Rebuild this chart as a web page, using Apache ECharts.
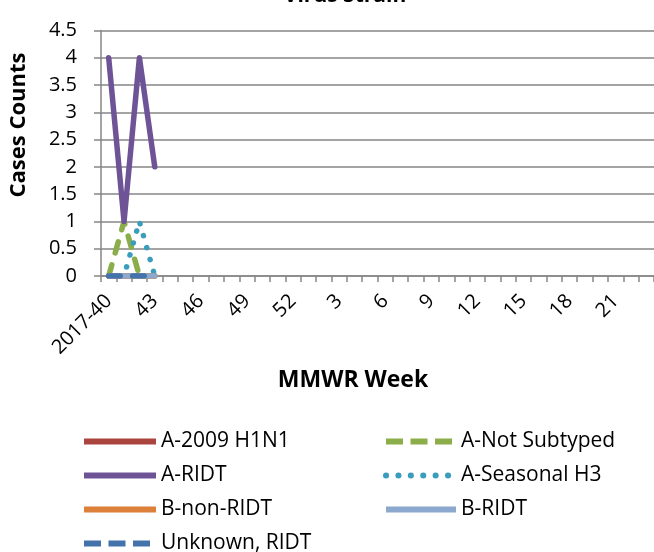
<!DOCTYPE html>
<html>
<head>
<meta charset="utf-8">
<script src="https://cdn.jsdelivr.net/npm/echarts@6/dist/echarts.min.js"></script>
<style>
html,body{margin:0;padding:0;background:#fff;overflow:hidden;}
#chart{width:654px;height:552px;}
</style>
</head>
<body>
<div id="chart"></div>
<script>
// Categories: MMWR weeks
const weeks2017 = ['2017-40','41','42','43','44','45','46','47','48','49','50','51','52'];
const weeks2018 = ['1','2','3','4','5','6','7','8','9','10','11','12','13','14','15','16','17','18','19','20','21','22','23'];
const categories = weeks2017.concat(weeks2018);

// Series values (only weeks with data)
const a2009H1N1    = [0, 0, 0, 0];
const aNotSubtyped = [0, 1, 0, 0];
const aRIDT        = [4, 1, 4, 2];
const aSeasonalH3  = [0, 0, 1, 0];
const bNonRIDT     = [0, 0, 0, 0];
const bRIDT        = [0, 0, 0, 0];
const unknownRIDT  = [0, 0, 0, 0];

const seriesNames = ['A-2009 H1N1', 'A-Not Subtyped', 'A-RIDT', 'A-Seasonal H3', 'B-non-RIDT', 'B-RIDT', 'Unknown, RIDT'];

const FONT = 'Open Sans';
const chart = echarts.init(document.getElementById('chart'));

const styles = {
  'A-2009 H1N1':    {color: '#A9443F', type: 'solid',      legType: 'solid',   legCap: 'butt'},
  'A-Not Subtyped': {color: '#8CAE4A', type: [11.5, 12.5], legType: [17, 7.5], legCap: 'butt'},
  'A-RIDT':         {color: '#6E5496', type: 'solid',      legType: 'solid',   legCap: 'butt'},
  'A-Seasonal H3':  {color: '#3A9DBB', type: [0.1, 12.3],  legType: [0.1, 12.3], legCap: 'round'},
  'B-non-RIDT':     {color: '#DD803A', type: 'solid',      legType: 'solid',   legCap: 'butt'},
  'B-RIDT':         {color: '#8DA8CF', type: 'solid',      legType: 'solid',   legCap: 'butt'},
  'Unknown, RIDT':  {color: '#4472AA', type: [11.5, 12.5], legType: [17, 7.5], legCap: 'butt'}
};

function mk(name, data) {
  const s = styles[name];
  return {
    name: name, type: 'line', data: data, symbol: 'none',
    lineStyle: {color: s.color, width: 5.5, type: s.type, cap: 'round', join: 'round'},
    itemStyle: {color: s.color},
    emphasis: {disabled: true}, animation: false
  };
}
function legItem(name) {
  const s = styles[name];
  return {
    name: name,
    itemStyle: {opacity: 0},
    lineStyle: {color: s.color, width: 6, type: s.legType, cap: s.legCap, opacity: 1}
  };
}

const legendText = {fontFamily: FONT, fontSize: 21, color: '#000', lineHeight: 21};

chart.setOption({
  animation: false,
  title: {
    text: 'Virus Strain', left: 340, top: -19, textAlign: 'center',
    textStyle: {fontFamily: FONT, fontWeight: 'bold', fontSize: 21, color: '#000'}
  },
  graphic: [
    {type: 'text', x: 19, y: 125, rotation: Math.PI / 2,
     style: {text: 'Cases Counts', align: 'center', verticalAlign: 'middle',
             font: 'bold 22px "Open Sans"', fill: '#000'}},
    {type: 'text', x: 353, y: 380,
     style: {text: 'MMWR Week', align: 'center', verticalAlign: 'middle',
             font: 'bold 23px "Open Sans"', fill: '#000'}}
  ],
  grid: {left: 101, top: 30.4, bottom: 276, right: -16},
  xAxis: {
    type: 'category', data: categories, boundaryGap: true,
    axisLine: {lineStyle: {color: '#868686', width: 1.5}},
    axisTick: {show: true, interval: 0, length: 6, lineStyle: {color: '#868686', width: 1.5}},
    axisLabel: {interval: 2, rotate: 45, margin: 22, fontFamily: FONT, fontSize: 20, color: '#000'},
    splitLine: {show: false}
  },
  yAxis: {
    type: 'value', min: 0, max: 4.5, interval: 0.5,
    axisLine: {show: true, lineStyle: {color: '#868686', width: 1.5}},
    axisTick: {show: true, length: 7, lineStyle: {color: '#868686', width: 1.5}},
    axisLabel: {margin: 24, fontFamily: FONT, fontSize: 20, color: '#000',
      formatter: function (v) { return String(v); }},
    splitLine: {show: true, lineStyle: {color: '#868686', width: 1.5}}
  },
  legend: [
    {
      orient: 'vertical', left: 81, top: 431, padding: 0, height: 200,
      itemWidth: 72, itemHeight: 14, itemGap: 13,
      data: ['A-2009 H1N1', 'A-RIDT', 'B-non-RIDT', 'Unknown, RIDT'].map(legItem),
      textStyle: legendText
    },
    {
      orient: 'vertical', left: 383, top: 431, padding: 0, height: 200,
      itemWidth: 70, itemHeight: 14, itemGap: 13,
      data: ['A-Not Subtyped', 'A-Seasonal H3', 'B-RIDT'].map(legItem),
      textStyle: legendText
    }
  ],
  series: seriesNames.map(function (n, i) {
    return mk(n, [a2009H1N1, aNotSubtyped, aRIDT, aSeasonalH3, bNonRIDT, bRIDT, unknownRIDT][i]);
  })
});
</script>
</body>
</html>
